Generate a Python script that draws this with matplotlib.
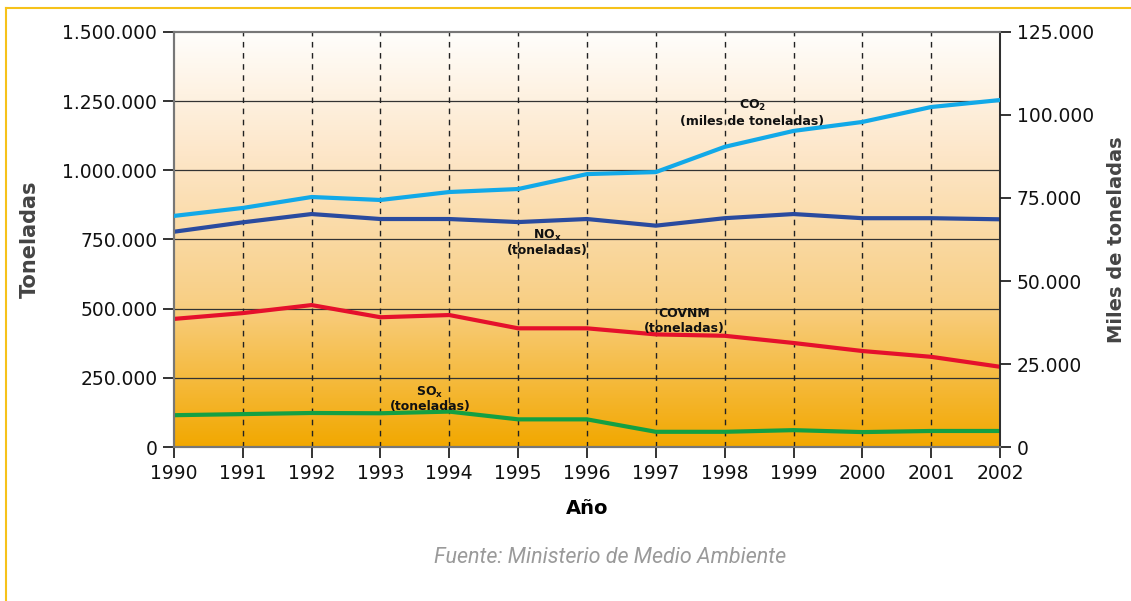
import matplotlib
matplotlib.use("Agg")
import matplotlib.pyplot as plt
import numpy as np
from matplotlib.colors import LinearSegmentedColormap
from matplotlib.ticker import FuncFormatter
from matplotlib.lines import Line2D

years = list(range(1990, 2003))
co2_kt = [69600, 72000, 75300, 74400, 76800, 77700, 82200, 82800, 90400, 95200, 97900, 102400, 104500]
nox_t = [778000, 812000, 842000, 824000, 824000, 813000, 824000, 800000, 827000, 842000, 827000, 827000, 823000]
covnm_t = [463000, 484000, 513000, 469000, 477000, 429000, 429000, 407000, 402000, 376000, 347000, 326000, 290000]
sox_t = [115000, 119000, 123000, 122000, 128000, 100000, 100000, 55000, 55000, 61000, 54000, 58000, 58000]
left_ticks = [0, 250000, 500000, 750000, 1000000, 1250000, 1500000]
right_ticks = [0, 25000, 50000, 75000, 100000, 125000]

def fmt(v, pos=None):
    return "{:,}".format(int(v)).replace(",", ".")

fig = plt.figure(figsize=(11.31, 6.01), dpi=100)
ax = fig.add_axes([0.1538, 0.2562, 0.7304, 0.6906])
ax.set_xlim(1990, 2002)
ax.set_ylim(0, 1500000)

cmap = LinearSegmentedColormap.from_list("bg", [(0, "#f2a800"), (0.35, "#f8cf85"), (0.7, "#fde6c8"), (1, "#fffefc")])
grad = np.linspace(0, 1, 256).reshape(-1, 1)
ax.imshow(grad, cmap=cmap, aspect="auto", origin="lower", extent=[1990, 2002, 0, 1500000], zorder=0)

for y in left_ticks[1:-1]:
    ax.axhline(y, color="#333333", lw=0.9, zorder=1)
for x in years[1:-1]:
    ax.axvline(x, color="#222222", lw=1.0, ls=(0, (4, 4)), zorder=1)

ax2 = ax.twinx()
ax2.set_ylim(0, 125000)

ax.plot(years, nox_t, color="#2a4b9f", lw=3, zorder=3)
ax.plot(years, covnm_t, color="#e5102c", lw=3, zorder=3)
ax.plot(years, sox_t, color="#13a043", lw=3, zorder=3)
ax2.plot(years, co2_kt, color="#12a9e8", lw=3, zorder=3)

ax.set_xticks(years)
ax.set_xticklabels([str(y) for y in years])
ax.set_yticks(left_ticks)
ax.yaxis.set_major_formatter(FuncFormatter(fmt))
ax2.set_yticks(right_ticks)
ax2.yaxis.set_major_formatter(FuncFormatter(fmt))

for a in (ax, ax2):
    a.tick_params(axis="both", direction="out", length=8, width=1.2, labelsize=13.5, colors="#111111", pad=4)
    for s in a.spines.values():
        s.set_color("#777777")
        s.set_linewidth(1.5)
ax2.spines["right"].set_color("#222222")
ax2.spines["right"].set_linewidth(1.2)

ax.set_xlabel("Año", fontsize=14, fontweight="bold", labelpad=12)
ax.set_ylabel("Toneladas", fontsize=15, fontweight="bold", color="#444444")
ax.yaxis.set_label_coords(-0.162, 0.5)
ax2.set_ylabel("Miles de toneladas", fontsize=14, fontweight="bold", color="#444444")
ax2.yaxis.set_label_coords(1.130, 0.5)

kw = dict(ha="center", va="center", fontsize=9, fontweight="bold", color="#111111", zorder=5)
ax.text(1998.4, 1236000, r"CO$_{\mathbf{2}}$", **kw)
ax.text(1998.4, 1178000, "(miles de toneladas)", **kw)
ax.text(1995.42, 766000, r"NO$_{\mathbf{x}}$", **kw)
ax.text(1995.42, 712000, "(toneladas)", **kw)
ax.text(1997.41, 481000, "COVNM", **kw)
ax.text(1997.41, 427000, "(toneladas)", **kw)
ax.text(1993.72, 199000, r"SO$_{\mathbf{x}}$", **kw)
ax.text(1993.72, 145000, "(toneladas)", **kw)

fig.text(0.539, 0.072, "Fuente: Ministerio de Medio Ambiente", ha="center", va="center",
         fontsize=15.5, style="italic", color="#9a9a9a", family=["Roboto", "DejaVu Sans"])

fig.add_artist(Line2D([6/1131, 1], [1 - 8/601, 1 - 8/601], transform=fig.transFigure, color="#f6c21a", lw=1.5))
fig.add_artist(Line2D([6/1131, 6/1131], [0, 1 - 8/601], transform=fig.transFigure, color="#f6c21a", lw=1.5))

fig.savefig("out.png", dpi=100)
